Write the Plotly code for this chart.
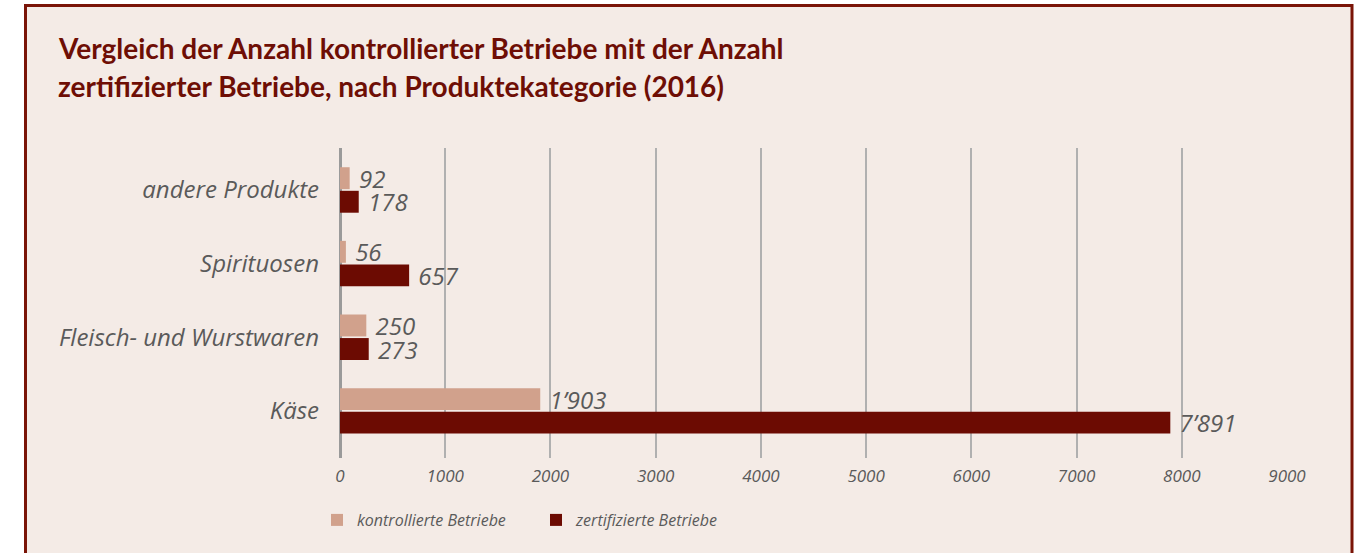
import plotly.graph_objects as go

categories = ["Käse", "Fleisch- und Wurstwaren", "Spirituosen", "andere Produkte"]
kontrolliert = [1903, 250, 56, 92]
zertifiziert = [7891, 273, 657, 178]
x_ticks = [0, 1000, 2000, 3000, 4000, 5000, 6000, 7000, 8000, 9000]
title_lines = ["Vergleich der Anzahl kontrollierter Betriebe mit der Anzahl",
               "zertifizierter Betriebe, nach Produktekategorie (2016)"]
series_names = ["kontrollierte Betriebe", "zertifizierte Betriebe"]

def fmt(v):
    return " " + f"{v:,}".replace(",", "’")

W, H = 1357, 553
L, R, T, B = 340, 1287, 148, 458

BG = "#F4EBE6"
LIGHT = "#D1A18C"
DARK = "#6C0B02"
FRAME = "#7A1407"
GREY = "#5a5a5a"
FONT = "Open Sans"

fig = go.Figure()
fig.add_trace(go.Bar(
    y=categories, x=zertifiziert, orientation="h", name=series_names[1],
    marker=dict(color=DARK, line=dict(width=0)),
    text=[fmt(v) for v in zertifiziert], textposition="outside",
    textfont=dict(family=FONT, size=24, color=GREY, style="italic"),
    constraintext="none", cliponaxis=False, legendrank=2,
))
fig.add_trace(go.Bar(
    y=categories, x=kontrolliert, orientation="h", name=series_names[0],
    marker=dict(color=LIGHT, line=dict(width=0)),
    text=[fmt(v) for v in kontrolliert], textposition="outside",
    textfont=dict(family=FONT, size=24, color=GREY, style="italic"),
    constraintext="none", cliponaxis=False, legendrank=1,
))

def px_x(px):
    return (px - L) / (R - L)

def px_y(py):
    return (B - py) / (B - T)

shapes = [dict(type="rect", xref="paper", yref="paper",
               x0=px_x(25.5), x1=px_x(1352), y0=px_y(600), y1=px_y(5.5),
               fillcolor=BG, line=dict(color=FRAME, width=3), layer="below")]

annotations = []
for i, line in enumerate(title_lines):
    annotations.append(dict(
        text="<b>" + line + "</b>", xref="paper", yref="paper",
        x=px_x(56), y=px_y(48 + 38 * i), xanchor="left", yanchor="middle",
        showarrow=False, font=dict(family="Lato", size=28, color="#6E0E05")))

fig.update_layout(
    width=W, height=H,
    margin=dict(l=L, r=W - R, t=T, b=H - B, pad=0),
    paper_bgcolor="white", plot_bgcolor="rgba(0,0,0,0)",
    barmode="group", bargap=0.36, bargroupgap=0.07,
    shapes=shapes, annotations=annotations,
    showlegend=True,
    legend=dict(orientation="h", x=px_x(317), y=px_y(520), xanchor="left", yanchor="middle",
                font=dict(family=FONT, size=16, color=GREY, style="italic"),
                bgcolor="rgba(0,0,0,0)", traceorder="normal",
                entrywidth=174, entrywidthmode="pixels"),
    xaxis=dict(range=[0, 9000], tickvals=x_ticks, ticktext=[str(v) for v in x_ticks],
               showgrid=True, gridcolor="#B0B0B0", gridwidth=1.5,
               zeroline=True, zerolinecolor="#9A9A9A", zerolinewidth=3,
               showline=False, ticks="", ticklabelstandoff=6,
               tickfont=dict(family=FONT, size=17, color=GREY, style="italic")),
    yaxis=dict(categoryorder="array", categoryarray=categories, range=[-0.64, 3.57],
               showgrid=False, zeroline=False, showline=False, ticks="",
               ticklabelstandoff=20,
               tickfont=dict(family=FONT, size=24, color=GREY, style="italic")),
)

fig.write_html("out.html")
